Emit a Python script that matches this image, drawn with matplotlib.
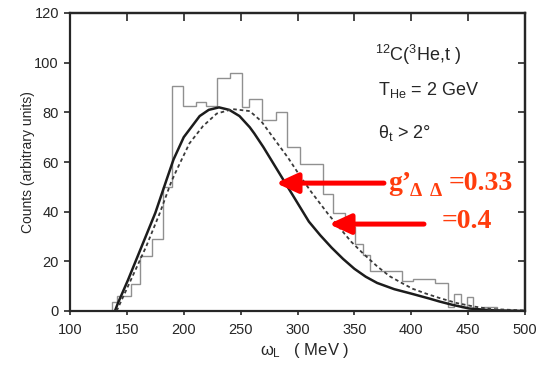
import matplotlib
matplotlib.use('Agg')
import matplotlib.pyplot as plt
from matplotlib import font_manager

# ---------------- data ----------------
x_ticks = [100, 150, 200, 250, 300, 350, 400, 450, 500]
y_ticks = [0, 20, 40, 60, 80, 100, 120]

hist_edges = [136.5, 141, 154, 161.5, 172, 181.5, 190, 199, 211, 219.5, 229,
              240.5, 251, 257, 269, 281.5, 290.5, 302, 322, 331, 341.5, 350.5,
              358, 363.5, 391.5, 401.5, 421, 432, 438, 443.5, 449, 454, 463, 475]
hist_values = [3.5, 6, 11, 22, 29, 50, 90.5, 82.5, 84, 82.5, 94,
               96, 82, 85.5, 77, 80, 66, 59, 47, 39.5, 34,
               27, 22.5, 16, 12, 13, 11.3, 1.6, 7, 1.5, 5.6, 1, 1.6]

solid_x = [139.5, 142, 151, 163, 175, 185, 191, 200, 214, 222, 231, 240, 249,
           258, 262, 270, 280, 290, 300, 310, 320, 330, 340, 350, 360, 370,
           385, 400, 416, 425, 436, 451, 470, 500]
solid_y = [0, 3, 12.5, 26, 39.5, 53, 61, 70, 78.5, 81, 82, 81, 78.5,
           74, 71.5, 66, 58.5, 51, 43.5, 36, 30.5, 25.5, 21, 17, 13.8, 11.3,
           8.8, 7.0, 5.0, 3.8, 2.5, 1.0, 0.3, 0]

dash_x = [141, 145, 155, 167, 179, 189, 194, 205, 217, 229, 243, 258, 268,
          280, 292, 302, 312, 327, 337, 347, 358, 370, 381, 392, 401, 413,
          425, 440, 455, 470, 500]
dash_y = [0, 4, 14, 26, 39.5, 52, 57, 67.5, 74.5, 79.5, 81.3, 80.5, 76.5,
          69, 61.5, 54.5, 48, 39, 33.5, 28, 23, 18, 14, 11.2, 9, 7,
          5.2, 3.2, 1.8, 0.8, 0.2]

# ---------------- fonts ----------------
names = {f.name for f in font_manager.fontManager.ttflist}
narrow = 'Liberation Sans Narrow' if 'Liberation Sans Narrow' in names else 'Liberation Sans'
sans = [narrow, 'DejaVu Sans']
plt.rcParams['font.family'] = sans
plt.rcParams['mathtext.fontset'] = 'custom'
plt.rcParams['mathtext.rm'] = narrow
plt.rcParams['mathtext.it'] = narrow
plt.rcParams['mathtext.bf'] = narrow + ':bold'

W, H = 537, 368
fig = plt.figure(figsize=(W / 100, H / 100), dpi=100)
ax = fig.add_axes([70 / W, 1 - 311 / H, 455 / W, 298 / H])

ink = '#262626'

ax.stairs(hist_values, hist_edges, baseline=0, color='#909090', lw=1.0)
ax.plot(solid_x, solid_y, color='#1c1c1c', lw=1.8, solid_capstyle='round')
ax.plot(dash_x, dash_y, color='#3a3a3a', lw=1.3, ls=(0, (2.0, 1.6)))

ax.set_xlim(100, 500)
ax.set_ylim(0, 120)
ax.set_xticks(x_ticks)
ax.set_yticks(y_ticks)
ax.set_xticklabels([str(v) for v in x_ticks])
ax.set_yticklabels([str(v) for v in y_ticks])
ax.tick_params(axis='x', direction='out', length=3, width=1.2, pad=6,
               labelsize=10.5, colors=ink)
ax.tick_params(axis='y', direction='out', length=4, width=1.2, pad=4,
               labelsize=10.5, colors=ink)
for s in ax.spines.values():
    s.set_linewidth(1.6)
    s.set_color(ink)

sx = ax.secondary_xaxis('top')
sx.set_xticks(x_ticks)
sx.set_xticklabels([])
sx.tick_params(direction='in', length=6, width=1.2, colors=ink)
sx.spines['top'].set_linewidth(1.6)
sx.spines['top'].set_color(ink)
sy = ax.secondary_yaxis('right')
sy.set_yticks(y_ticks)
sy.set_yticklabels([])
sy.tick_params(direction='in', length=5, width=1.2, colors=ink)
sy.spines['right'].set_linewidth(1.6)
sy.spines['right'].set_color(ink)

ax.set_ylabel('Counts (arbitrary units)', fontsize=10, color=ink)
ax.yaxis.set_label_coords(-0.077, 0.5)
ax.set_xlabel(r'$\omega_{\mathrm{L}}$   ( MeV )', fontsize=12, color=ink)
ax.xaxis.set_label_coords(0.516, -0.10)


def P(x, y):
    return x / W, 1 - y / H


fig.text(*P(375, 55), r'$^{12}$C($^{3}$He,t )', fontsize=13, color=ink,
         ha='left', va='center')
fig.text(*P(378, 90), r'T$_{\mathrm{He}}$ = 2 GeV', fontsize=13, color=ink,
         ha='left', va='center')
fig.text(*P(378, 133), r'θ$_{\mathrm{t}}$ > 2°', fontsize=13, color=ink,
         ha='left', va='center')

# red annotations
red = '#ff0000'
tred = '#ff3d0d'
aprops = dict(arrowstyle='-|>,head_length=1.3,head_width=0.6', color=red,
              lw=3.6, mutation_scale=10, shrinkA=0, shrinkB=0)
ax.annotate('', xy=(281.1, 51.5), xytext=(376.0, 51.5), arrowprops=aprops,
            annotation_clip=False)
ax.annotate('', xy=(327.7, 35.0), xytext=(411.2, 35.0), arrowprops=aprops,
            annotation_clip=False)

serif = ['Liberation Serif', 'DejaVu Serif']
fig.text(*P(388, 190), 'g’', fontsize=20, fontweight='bold', family=serif,
         color=tred, ha='left', va='baseline')
fig.text(*P(410, 196), 'Δ', fontsize=14, fontweight='bold', family=serif,
         color=tred, ha='left', va='baseline')
fig.text(*P(430, 196), 'Δ', fontsize=14, fontweight='bold', family=serif,
         color=tred, ha='left', va='baseline')
fig.text(*P(449, 190), '=0.33', fontsize=20, fontweight='bold', family=serif,
         color=tred, ha='left', va='baseline')
fig.text(*P(442, 228), '=0.4', fontsize=20, fontweight='bold', family=serif,
         color=tred, ha='left', va='baseline')

fig.savefig('out.png', dpi=100)
